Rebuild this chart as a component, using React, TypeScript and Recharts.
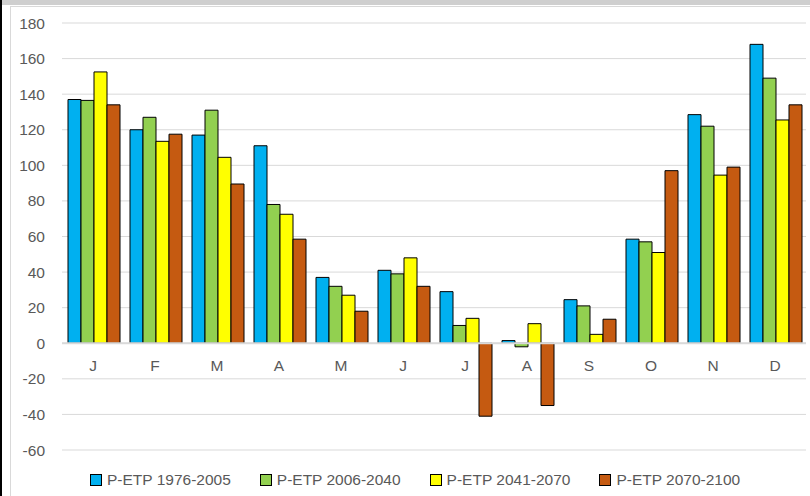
import React from 'react';
import {
  BarChart,
  Bar,
  XAxis,
  YAxis,
  CartesianGrid,
  ReferenceLine,
  Legend,
} from 'recharts';

const months = ['J', 'F', 'M', 'A', 'M', 'J', 'J', 'A', 'S', 'O', 'N', 'D'];
const p1976 = [137, 120, 117, 111, 37, 41, 29, 1.5, 24.5, 58.5, 128.5, 168];
const p2006 = [136.5, 127, 131, 78, 32, 39, 10, -2, 21, 57, 122, 149];
const p2041 = [152.5, 113.5, 104.5, 72.5, 27, 48, 14, 11, 5, 51, 94.5, 125.5];
const p2070 = [134, 117.5, 89.5, 58.5, 18, 32, -41, -35, 13.5, 97, 99, 134];
const yTicks = [-60, -40, -20, 0, 20, 40, 60, 80, 100, 120, 140, 160, 180];

const seriesNames = ['P-ETP 1976-2005', 'P-ETP 2006-2040', 'P-ETP 2041-2070', 'P-ETP 2070-2100'];
const seriesColors = ['#00B0F0', '#92D050', '#FFFF00', '#C55A11'];

const data = months.map((m, i) => ({
  month: m,
  s1: p1976[i],
  s2: p2006[i],
  s3: p2041[i],
  s4: p2070[i],
}));

const FONT = '"Liberation Sans", Arial, sans-serif';
const TEXT = '#595959';
const GRID = '#D9D9D9';

const W = 810;
const H = 496;
const TOP = 23;
const BOTTOM = 26;
const X_AXIS_H = 20;
const Y_MIN = -60;
const Y_MAX = 180;
const PLOT_H = H - TOP - BOTTOM - X_AXIS_H;
// month labels sit just under the zero line, not at the bottom of the plot
const LABEL_SHIFT = PLOT_H * (-Y_MIN / (Y_MAX - Y_MIN));

const MonthTick = (props: any) => {
  const { x, y, payload } = props;
  return (
    <text
      x={x}
      y={y - LABEL_SHIFT}
      dy={20}
      textAnchor="middle"
      fill={TEXT}
      fontSize={15.5}
      fontFamily={FONT}
    >
      {payload.value}
    </text>
  );
};

const LegendContent = () => (
  <div
    style={{
      display: 'flex',
      paddingLeft: 90,
      gap: 29,
      fontFamily: FONT,
      fontSize: 15.5,
      color: TEXT,
    }}
  >
    {seriesNames.map((n, i) => (
      <div key={n} style={{ display: 'flex', alignItems: 'center' }}>
        <span
          style={{
            width: 10,
            height: 10,
            background: seriesColors[i],
            border: '1px solid #000',
            marginRight: 5,
          }}
        />
        <span>{n}</span>
      </div>
    ))}
  </div>
);

export default function App() {
  return (
    <div
      style={{
        position: 'absolute',
        left: 0,
        top: 0,
        width: W,
        height: H,
        background: '#fff',
        overflow: 'hidden',
      }}
    >
      <div style={{ position: 'absolute', left: 0, top: 0, width: W, height: 5, background: '#CFCFCF' }} />
      <div style={{ position: 'absolute', left: 0, top: 0, width: 2, height: H, background: '#000' }} />
      <div
        style={{
          position: 'absolute',
          left: 10,
          top: 6,
          width: W,
          height: H,
          borderLeft: `1px solid ${GRID}`,
          borderTop: `1px solid ${GRID}`,
        }}
      />
      <div style={{ position: 'absolute', left: 0, top: 0 }}>
        <BarChart
          width={W}
          height={H}
          data={data}
          margin={{ top: TOP, right: 4, left: 0, bottom: BOTTOM }}
          barCategoryGap={6}
          barGap={0}
        >
          <CartesianGrid vertical={false} stroke={GRID} strokeWidth={1} />
          <XAxis
            dataKey="month"
            axisLine={false}
            tickLine={false}
            tick={<MonthTick />}
            height={X_AXIS_H}
            interval={0}
          />
          <YAxis
            width={62}
            domain={[Y_MIN, Y_MAX]}
            ticks={yTicks}
            axisLine={false}
            tickLine={false}
            tickSize={0}
            tickMargin={17}
            tick={{ fill: TEXT, fontSize: 15.5, fontFamily: FONT }}
            interval={0}
          />
          <ReferenceLine y={0} stroke={GRID} strokeWidth={2} />
          <Legend
            verticalAlign="middle"
            layout="horizontal"
            content={<LegendContent />}
            wrapperStyle={{ top: 471, left: 0, width: W }}
          />
          {['s1', 's2', 's3', 's4'].map((k, i) => (
            <Bar
              key={k}
              dataKey={k}
              name={seriesNames[i]}
              fill={seriesColors[i]}
              stroke="#000"
              strokeWidth={1}
              isAnimationActive={false}
            />
          ))}
        </BarChart>
      </div>
    </div>
  );
}
